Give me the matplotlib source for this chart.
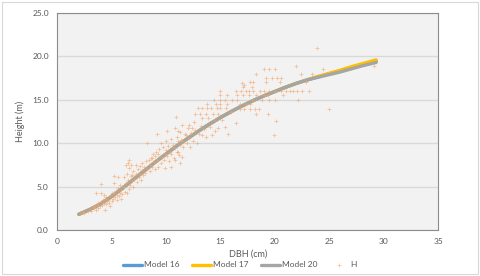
import matplotlib
matplotlib.use("Agg")
import matplotlib.pyplot as plt
from matplotlib.patches import Rectangle

# fitted model curves
model_dbh = [2, 3, 4, 5, 6, 7, 8, 9, 10, 11, 12, 13, 14, 15, 16, 17, 18, 19, 20,
             21, 22, 23, 24, 25, 26, 27, 28, 29.3]
model16_h = [1.8, 2.35, 3.0, 3.85, 4.8, 5.8, 6.8, 7.8, 8.75, 9.7, 10.55, 11.4, 12.2, 12.95,
             13.65, 14.3, 14.9, 15.45, 15.95, 16.45, 16.9, 17.3, 17.65, 18.0, 18.35, 18.7,
             19.05, 19.45]
model17_h = [1.8, 2.35, 3.0, 3.85, 4.8, 5.8, 6.8, 7.8, 8.75, 9.7, 10.55, 11.4, 12.2, 12.95,
             13.65, 14.3, 14.9, 15.45, 15.95, 16.45, 16.9, 17.3, 17.7, 18.05, 18.4, 18.8,
             19.15, 19.6]
model20_h = [1.8, 2.35, 3.0, 3.85, 4.8, 5.8, 6.8, 7.8, 8.75, 9.7, 10.55, 11.4, 12.2, 12.95,
             13.65, 14.3, 14.9, 15.45, 15.95, 16.45, 16.9, 17.3, 17.6, 17.9, 18.2, 18.55,
             18.9, 19.3]

# observed trees
obs_dbh = [
    2.1, 2.4, 2.5, 2.8, 3.0, 3.1, 3.3, 3.4, 3.5, 3.6,
    3.6, 3.7, 3.8, 3.8, 3.9, 4.0, 4.0, 4.0, 4.1, 4.2,
    4.3, 4.3, 4.4, 4.4, 4.5, 4.5, 4.6, 4.7, 4.8, 4.9,
    4.9, 5.0, 5.0, 5.1, 5.2, 5.2, 5.2, 5.3, 5.4, 5.5,
    5.5, 5.6, 5.6, 5.7, 5.8, 5.8, 5.9, 5.9, 6.0, 6.1,
    6.1, 6.2, 6.3, 6.3, 6.4, 6.4, 6.5, 6.5, 6.6, 6.6,
    6.6, 6.7, 6.8, 6.8, 6.9, 6.9, 7.0, 7.0, 7.1, 7.2,
    7.2, 7.3, 7.4, 7.5, 7.6, 7.6, 7.7, 7.8, 7.8, 7.9,
    8.0, 8.1, 8.2, 8.3, 8.3, 8.4, 8.5, 8.5, 8.6, 8.7,
    8.7, 8.8, 8.9, 9.0, 9.0, 9.1, 9.2, 9.2, 9.3, 9.3,
    9.4, 9.5, 9.5, 9.6, 9.7, 9.8, 9.9, 9.9, 10.0, 10.0,
    10.1, 10.1, 10.2, 10.3, 10.4, 10.5, 10.5, 10.5, 10.6, 10.7,
    10.8, 10.8, 10.8, 10.9, 11.0, 11.0, 11.1, 11.1, 11.1, 11.2,
    11.3, 11.3, 11.3, 11.4, 11.5, 11.5, 11.5, 11.6, 11.7, 11.8,
    11.9, 12.0, 12.1, 12.1, 12.2, 12.3, 12.4, 12.5, 12.6, 12.7,
    12.7, 12.8, 12.9, 13.0, 13.1, 13.2, 13.3, 13.3, 13.3, 13.5,
    13.7, 13.7, 13.8, 13.8, 13.9, 14.0, 14.1, 14.2, 14.3, 14.4,
    14.5, 14.5, 14.6, 14.7, 14.8, 14.8, 15.0, 15.0, 15.0, 15.0,
    15.0, 15.1, 15.4, 15.4, 15.5, 15.6, 15.6, 15.7, 16.0, 16.1,
    16.4, 16.4, 16.5, 16.5, 16.8, 16.8, 16.9, 17.0, 17.1, 17.1,
    17.2, 17.2, 17.3, 17.3, 17.6, 17.6, 17.7, 17.7, 17.7, 17.9,
    18.0, 18.0, 18.0, 18.2, 18.3, 18.3, 18.3, 18.5, 18.6, 18.8,
    19.0, 19.0, 19.0, 19.2, 19.2, 19.4, 19.4, 19.5, 19.5, 19.5,
    19.7, 19.9, 20.0, 20.0, 20.0, 20.1, 20.2, 20.5, 20.6, 20.6,
    20.7, 21.0, 21.4, 21.7, 21.9, 22.0, 22.1, 22.4, 22.5, 22.9,
    23.1, 23.4, 23.9, 24.4, 25.0, 29.1,
]
obs_h = [
    1.9, 2.1, 2.0, 2.2, 2.4, 2.2, 2.6, 2.5, 2.8, 2.3,
    4.3, 2.9, 2.5, 3.1, 2.8, 3.2, 4.3, 5.3, 2.9, 3.4,
    3.1, 4.0, 2.3, 3.6, 3.0, 3.8, 3.3, 3.5, 3.1, 2.7,
    3.9, 3.3, 4.3, 3.6, 4.2, 5.4, 6.2, 3.8, 4.5, 3.5,
    4.0, 4.8, 6.1, 3.9, 4.3, 5.2, 3.6, 4.6, 4.1, 6.1,
    5.0, 4.4, 7.5, 5.4, 4.2, 6.5, 5.7, 7.7, 8.0, 4.7,
    7.1, 5.2, 7.5, 6.2, 6.3, 5.6, 4.9, 6.8, 5.9, 7.5,
    6.4, 5.5, 7.0, 6.1, 6.5, 7.4, 5.8, 7.7, 6.9, 6.3,
    7.3, 6.6, 7.9, 10.0, 7.0, 8.1, 7.5, 6.8, 8.3, 8.3,
    7.2, 8.8, 7.8, 8.5, 7.0, 9.0, 11.0, 8.1, 8.8, 7.3,
    9.3, 10.0, 7.7, 8.4, 9.6, 8.0, 8.8, 7.1, 10.2, 9.2,
    11.4, 8.5, 9.7, 7.9, 9.0, 10.5, 8.8, 7.3, 9.8, 8.3,
    11.8, 8.1, 9.4, 13.0, 10.7, 9.0, 11.4, 10.2, 9.0, 8.6,
    7.7, 11.3, 9.8, 10.4, 12.1, 8.4, 10.2, 9.5, 11.0, 10.9,
    10.0, 11.7, 12.1, 10.6, 9.6, 11.2, 11.7, 10.3, 12.4, 11.5,
    13.4, 10.0, 14.0, 11.1, 13.4, 12.0, 10.9, 12.9, 14.0, 11.6,
    10.7, 13.4, 14.0, 14.5, 12.9, 11.9, 14.0, 10.9, 13.4, 15.0,
    12.7, 11.4, 14.5, 14.0, 13.4, 11.7, 16.0, 15.5, 15.0, 14.5,
    14.0, 12.7, 15.0, 11.9, 14.0, 15.5, 14.5, 11.1, 13.6, 15.0,
    16.0, 12.3, 15.5, 15.0, 14.5, 13.9, 16.0, 16.9, 15.5, 16.5,
    16.7, 13.9, 16.0, 14.5, 15.5, 16.0, 17.0, 14.5, 13.9, 16.5,
    17.0, 16.0, 15.0, 13.9, 18.0, 15.5, 13.4, 13.9, 16.0, 15.0,
    18.5, 16.0, 15.5, 17.5, 17.0, 13.4, 15.5, 18.5, 16.0, 15.0,
    17.5, 10.9, 18.5, 16.0, 15.0, 12.5, 17.5, 17.0, 17.5, 16.0,
    15.5, 16.0, 16.0, 16.0, 18.9, 16.0, 15.0, 18.0, 16.0, 17.0,
    16.0, 18.0, 21.0, 18.5, 13.9, 18.9,
]

x_ticks = [0, 5, 10, 15, 20, 25, 30, 35]
y_ticks = [0, 5, 10, 15, 20, 25]

plt.rcParams["font.family"] = ["Lato", "DejaVu Sans"]
text_color = "#595959"

fig = plt.figure(figsize=(4.8, 2.76), dpi=100)
fig.patches.append(Rectangle((0.004, 0.007), 0.991, 0.986, transform=fig.transFigure,
                             fill=False, edgecolor="#d9d9d9", linewidth=0.8))
ax = fig.add_axes([0.119, 0.167, 0.794, 0.786])
ax.set_facecolor("#f2f2f2")

ax.plot(model_dbh, model16_h, color="#5b9bd5", linewidth=2.4, label="Model 16",
        solid_capstyle="round")
ax.plot(model_dbh, model17_h, color="#ffc000", linewidth=2.4, label="Model 17",
        solid_capstyle="round")
ax.plot(model_dbh, model20_h, color="#a5a5a5", linewidth=2.4, label="Model 20",
        solid_capstyle="round")
ax.plot(obs_dbh, obs_h, linestyle="none", marker="+", markersize=2.2,
        markeredgewidth=0.5, color="#f4a46a", alpha=0.7, label="H")

ax.set_xlim(0, 35)
ax.set_ylim(0, 25)
ax.set_xticks(x_ticks)
ax.set_yticks(y_ticks)
ax.set_yticklabels([f"{v:.1f}" for v in y_ticks])
ax.tick_params(length=0, labelsize=6, labelcolor=text_color, pad=6)
ax.grid(axis="y", color="#d9d9d9", linewidth=1)
ax.set_axisbelow(True)
for s in ax.spines.values():
    s.set_color("#8c8c8c")
    s.set_linewidth(0.8)

ax.set_xlabel("DBH (cm)", fontsize=6.5, color=text_color, labelpad=3)
ax.set_ylabel("Height (m)", fontsize=6.5, color=text_color, labelpad=5)

fig.legend(loc="center", bbox_to_anchor=(0.5, 0.04), ncol=4, frameon=False,
           fontsize=6, labelcolor=text_color, handlelength=2.3, columnspacing=1.5,
           handletextpad=0.2)

plt.savefig("out.png", dpi=100)
plt.close()
